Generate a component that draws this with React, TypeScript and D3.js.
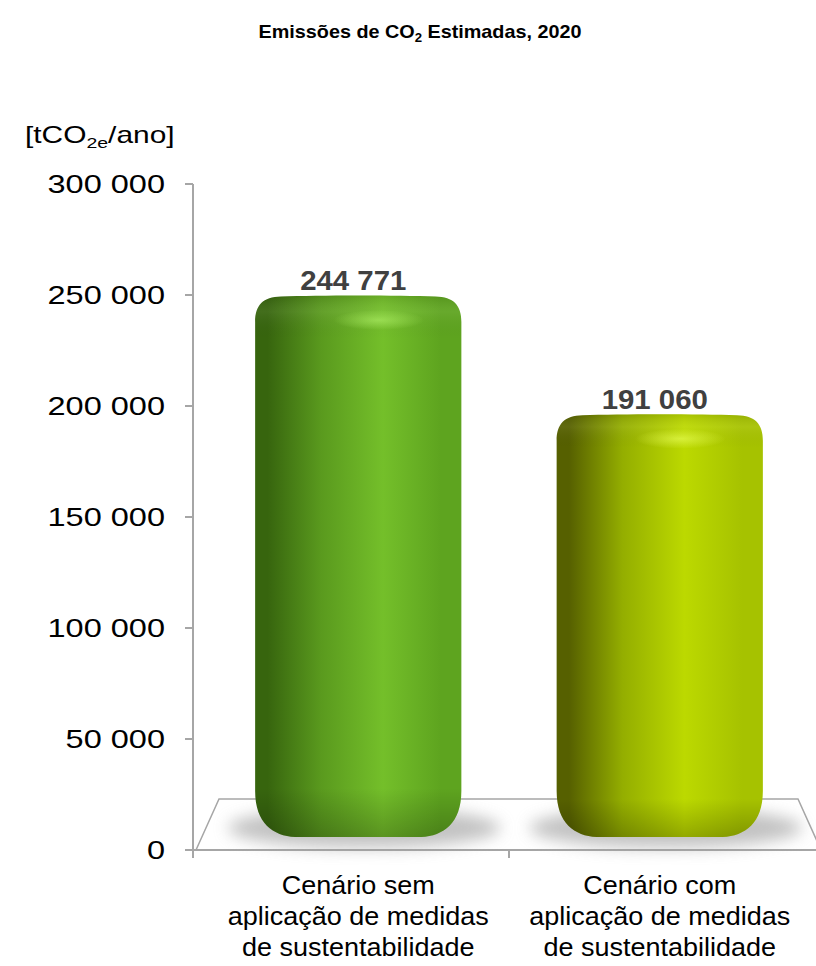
import React from "react";
import * as d3 from "d3";

// Chart data
const categories = ["sem", "com"];
const categoryLines = [
  ["Cenário sem", "aplicação de medidas", "de sustentabilidade"],
  ["Cenário com", "aplicação de medidas", "de sustentabilidade"],
];
const emissions = [244771, 191060];
const yTicks = [0, 50000, 100000, 150000, 200000, 250000, 300000];

// Per-bar palette: dark left rim, mid tone, bright face, right rim, highlight
const barPalettes = [
  { dark: "#37650e", mid: "#5a9a1e", light: "#74bf2a", edge: "#5ea41f", hi: "#a8ea60" },
  { dark: "#566000", mid: "#94ae00", light: "#bcd900", edge: "#a6c200", hi: "#e4fb50" },
];

const W = 816;
const H = 966;
const FONT = "'Liberation Sans', Arial, Helvetica, sans-serif";

const fmt = d3
  .formatLocale({ decimal: ",", thousands: " ", grouping: [3], currency: ["", ""] })
  .format(",d");

// Scales: the axis plane and the bar plane (set back in depth)
const axisX = 193;
const yAxis = d3.scaleLinear().domain([0, 300000]).range([850, 184]);
const yBar = d3.scaleLinear().domain([0, 300000]).range([837, 174]);
const xFront = d3.scaleBand().domain(categories).range([196, 822]);
const xBar = d3.scaleBand().domain(categories).range([207.5, 810.5]);
const barWidthRatio = 0.684;

function barPath(x0: number, x1: number, top: number, bottom: number) {
  const tx = 26, ty = 26; // top cap rounding
  const bx = 40, by = 46; // bottom rounding
  const p = d3.path();
  p.moveTo(x0, top + ty);
  p.bezierCurveTo(x0, top + ty * 0.35, x0 + tx * 0.3, top + 1, x0 + tx, top + 0.5);
  p.bezierCurveTo((x0 + x1) / 2 - 40, top - 0.8, (x0 + x1) / 2 + 40, top - 0.8, x1 - tx, top + 0.5);
  p.bezierCurveTo(x1 - tx * 0.3, top + 1, x1, top + ty * 0.35, x1, top + ty);
  p.lineTo(x1, bottom - by);
  p.bezierCurveTo(x1, bottom - by * 0.3, x1 - bx * 0.45, bottom - 1, x1 - bx, bottom);
  p.lineTo(x0 + bx, bottom);
  p.bezierCurveTo(x0 + bx * 0.45, bottom - 1, x0, bottom - by * 0.3, x0, bottom - by);
  p.closePath();
  return p.toString();
}

function StretchText(props: {
  x: number;
  y: number;
  sx: number;
  anchor?: string;
  size: number;
  weight?: string | number;
  fill?: string;
  children: React.ReactNode;
}) {
  const { x, y, sx, anchor = "start", size, weight = "normal", fill = "#000", children } = props;
  return (
    <text
      transform={`translate(${x},${y}) scale(${sx},1)`}
      textAnchor={anchor}
      fontFamily={FONT}
      fontSize={size}
      fontWeight={weight}
      fill={fill}
    >
      {children}
    </text>
  );
}

export default function App() {
  const bw = xBar.bandwidth() * barWidthRatio;
  const grid = "#a6a6a6";

  return (
    <div style={{ position: "absolute", left: 0, top: 0 }}>
      <svg width={W} height={H} viewBox={`0 0 ${W} ${H}`} style={{ display: "block", background: "#fff" }}>
        <defs>
          <filter id="shadowBlur" x="-30%" y="-80%" width="160%" height="260%">
            <feGaussianBlur stdDeviation="8" />
          </filter>
          {barPalettes.map((c, i) => (
            <React.Fragment key={i}>
              <linearGradient id={`barH${i}`} x1="0" y1="0" x2="1" y2="0">
                <stop offset="0" stopColor={c.dark} />
                <stop offset="0.06" stopColor={c.dark} />
                <stop offset="0.32" stopColor={c.mid} />
                <stop offset="0.62" stopColor={c.light} />
                <stop offset="0.9" stopColor={c.edge} />
                <stop offset="1" stopColor={c.edge} />
              </linearGradient>
              <radialGradient id={`barHi${i}`} cx="0.5" cy="0.5" r="0.5">
                <stop offset="0" stopColor={c.hi} stopOpacity="0.7" />
                <stop offset="1" stopColor={c.hi} stopOpacity="0" />
              </radialGradient>
            </React.Fragment>
          ))}
          <linearGradient id="barShadeV" x1="0" y1="0" x2="0" y2="1">
            <stop offset="0" stopColor="#000" stopOpacity="0.1" />
            <stop offset="0.03" stopColor="#fff" stopOpacity="0.06" />
            <stop offset="0.08" stopColor="#000" stopOpacity="0" />
            <stop offset="0.91" stopColor="#000" stopOpacity="0" />
            <stop offset="1" stopColor="#000" stopOpacity="0.22" />
          </linearGradient>
        </defs>

        {/* Title */}
        <StretchText x={420} y={38} sx={1.1} anchor="middle" size={18} weight="bold">
          <tspan>Emissões de CO</tspan>
          <tspan fontSize={12} dy={4}>2</tspan>
          <tspan dy={-4}> Estimadas, 2020</tspan>
        </StretchText>

        {/* Unit label */}
        <StretchText x={25} y={143} sx={1.3} size={23}>
          <tspan>[tCO</tspan>
          <tspan fontSize={15} dy={5}>2e</tspan>
          <tspan dy={-5}>/ano]</tspan>
        </StretchText>

        {/* Floor */}
        <polygon
          points={`${xFront.range()[0]},${yAxis(0)} 219,799 798,799 ${xFront.range()[1] - 1},${yAxis(0)}`}
          fill="none"
          stroke={grid}
          strokeWidth={1.5}
        />
        <line x1={axisX - 8} x2={W} y1={yAxis(0)} y2={yAxis(0)} stroke={grid} strokeWidth={2} />

        {/* Value axis */}
        <line x1={axisX} x2={axisX} y1={yAxis(300000)} y2={yAxis(0) + 8} stroke={grid} strokeWidth={2} />
        {yTicks.map((t) => (
          <g key={t}>
            <line x1={axisX - 8} x2={axisX} y1={yAxis(t)} y2={yAxis(t)} stroke={grid} strokeWidth={2} />
            <StretchText x={165} y={yAxis(t) + 9} sx={1.3} anchor="end" size={25}>
              {fmt(t)}
            </StretchText>
          </g>
        ))}

        {/* Category ticks */}
        {categories.slice(1).map((c) => (
          <line
            key={c}
            x1={xFront(c)!}
            x2={xFront(c)!}
            y1={yAxis(0)}
            y2={yAxis(0) + 8}
            stroke={grid}
            strokeWidth={2}
          />
        ))}

        {/* Bar shadows */}
        {categories.map((c) => {
          const cx = xBar(c)! + xBar.bandwidth() / 2;
          return (
            <ellipse
              key={c}
              cx={cx + 6}
              cy={yBar(0) - 9}
              rx={bw * 0.66}
              ry={20}
              fill="#9a9a9a"
              opacity={0.6}
              filter="url(#shadowBlur)"
            />
          );
        })}

        {/* Bars */}
        {categories.map((c, i) => {
          const cx = xBar(c)! + xBar.bandwidth() / 2;
          const x0 = cx - bw / 2;
          const x1 = cx + bw / 2;
          const top = yBar(emissions[i]);
          const bottom = yBar(0);
          const d = barPath(x0, x1, top, bottom);
          return (
            <g key={c}>
              <path d={d} fill={`url(#barH${i})`} />
              <path d={d} fill="url(#barShadeV)" />
              <ellipse cx={x0 + bw * 0.6} cy={top + 24} rx={bw * 0.22} ry={10} fill={`url(#barHi${i})`} />
              <StretchText x={cx - 5} y={top - 6} sx={1.05} anchor="middle" size={28} weight="bold" fill="#404040">
                {fmt(emissions[i])}
              </StretchText>
            </g>
          );
        })}

        {/* Category labels */}
        {categories.map((c, i) => {
          const cx = xBar(c)! + xBar.bandwidth() / 2;
          return categoryLines[i].map((line, j) => (
            <StretchText key={`${c}${j}`} x={cx} y={894 + j * 31} sx={1.08} anchor="middle" size={25}>
              {line}
            </StretchText>
          ));
        })}
      </svg>
    </div>
  );
}
